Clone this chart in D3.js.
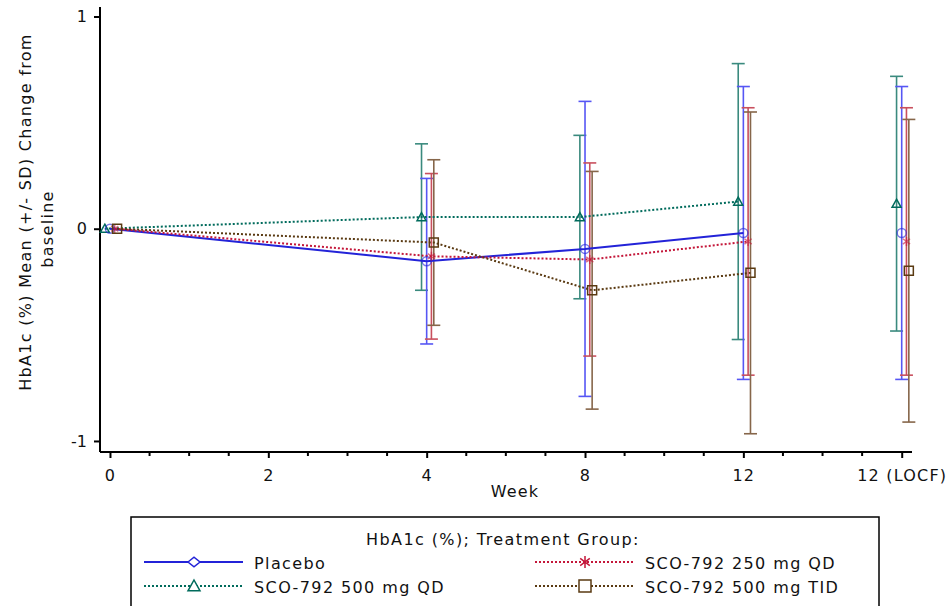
<!DOCTYPE html>
<head>
  <meta charset="utf-8">
  <script src="https://d3js.org/d3.v7.min.js"></script>
  <style>
    body { margin:0; background:#fff; }
    text { font-family: "DejaVu Sans", Verdana, sans-serif; font-size:16px; fill:#111; }
  </style>
</head>
<body>
<script>
// visit positions on the axis (axis is per visit, not linear weeks)
var tickPos = [0, 2, 4, 6, 8, 10];
var tickLabels = ["0", "2", "4", "8", "12", "12 (LOCF)"];
var visitPos = [0, 4, 6, 8, 10];
var yTicks = [-1, 0, 1];
var yTickLabels = ["-1", "0", "1"];

var seriesNames = ["SCO-792 500 mg QD", "Placebo", "SCO-792 250 mg QD", "SCO-792 500 mg TID"];
// mean change and SD per visit
var mean500qd  = [0, 0.055, 0.055, 0.128, 0.118];
var sd500qd    = [0, 0.345, 0.385, 0.65, 0.60];
var meanPbo    = [0, -0.153, -0.095, -0.02, -0.02];
var sdPbo      = [0, 0.39, 0.695, 0.69, 0.69];
var mean250qd  = [0, -0.13, -0.145, -0.06, -0.06];
var sd250qd    = [0, 0.39, 0.455, 0.63, 0.63];
var mean500tid = [0, -0.065, -0.29, -0.208, -0.198];
var sd500tid   = [0, 0.39, 0.56, 0.758, 0.713];

var width = 947, height = 606;
var svg = d3.select("body").append("svg").attr("width", width).attr("height", height);

var x = d3.scaleLinear().domain([-0.126, 10.13]).range([100, 912]);
var y = d3.scaleLinear().domain([-1.052, 1.04]).range([452, 8]);

var series = [
  {name: seriesNames[0], mean: mean500qd, sd: sd500qd, dodge: -0.065, line: "#006b5c", bar: "#3a8a7e", dash: "2,2", width: 2, marker: "triangle"},
  {name: seriesNames[1], mean: meanPbo, sd: sdPbo, dodge: 0, line: "#2323d8", bar: "#5656f4", dash: null, width: 2, marker: "circle"},
  {name: seriesNames[2], mean: mean250qd, sd: sd250qd, dodge: 0.06, line: "#c4173a", bar: "#c9505e", dash: "2,2", width: 2, marker: "asterisk"},
  {name: seriesNames[3], mean: mean500tid, sd: sd500tid, dodge: 0.09, line: "#5a3a12", bar: "#86664a", dash: "2,2", width: 2, marker: "square"}
];

function markerPath(type, s) {
  var h = s / 2;
  if (type == "triangle") return "M0," + (-h) + "L" + h + "," + (h*0.8) + "L" + (-h) + "," + (h*0.8) + "Z";
  if (type == "square") return "M" + (-h) + "," + (-h) + "H" + h + "V" + h + "H" + (-h) + "Z";
  if (type == "diamond") return "M" + (-h) + ",0L0," + (-h*0.8) + "L" + h + ",0L0," + (h*0.8) + "Z";
  if (type == "asterisk") return "M0," + (-h) + "V" + h + "M" + (-h*0.8) + "," + (-h*0.6) + "L" + (h*0.8) + "," + (h*0.6) + "M" + (-h*0.8) + "," + (h*0.6) + "L" + (h*0.8) + "," + (-h*0.6);
  // circle
  return d3.arc()({innerRadius: 0, outerRadius: h, startAngle: 0, endAngle: 2 * Math.PI});
}

// axes
var xAxis = d3.axisBottom(x).tickValues(tickPos).tickSize(6).tickSizeOuter(0)
  .tickFormat(function(d, i) { return tickLabels[i]; });
var gx = svg.append("g").attr("transform", "translate(0,452)").call(xAxis);
gx.select(".domain").attr("d", "M100,0H912");
gx.selectAll("text").attr("y", 18).style("letter-spacing", "1.2px");

var minor = d3.range(0, 10.01, 0.5).filter(function(v) { return tickPos.indexOf(v) < 0; });
gx.selectAll("line.minor").data(minor).enter().append("line").attr("class", "minor")
  .attr("x1", x).attr("x2", x).attr("y1", 0).attr("y2", 4);

var yAxis = d3.axisLeft(y).tickValues(yTicks).tickSize(6).tickSizeOuter(0).tickPadding(7)
  .tickFormat(function(d, i) { return yTickLabels[i]; });
var gy = svg.append("g").attr("transform", "translate(100,0)").call(yAxis);
gy.select(".domain").attr("d", "M0,7V452");

svg.selectAll(".domain, .tick line, line.minor").attr("stroke", "#000").attr("stroke-width", 2);
svg.selectAll(".tick text").style("font-size", "16px").attr("fill", "#111");

svg.append("text").attr("x", 515).attr("y", 497).attr("text-anchor", "middle")
  .style("letter-spacing", "1.2px").text("Week");

var ytitle = svg.append("g").style("letter-spacing", "1.3px");
ytitle.append("text").attr("transform", "translate(31,212)rotate(-90)").attr("text-anchor", "middle")
  .text("HbA1c (%) Mean (+/- SD) Change from");
ytitle.append("text").attr("transform", "translate(53,229)rotate(-90)").attr("text-anchor", "middle")
  .text("baseline");

// error bars
var plot = svg.append("g");
series.forEach(function(s) {
  var g = plot.append("g").attr("stroke", s.bar).attr("stroke-width", 1.6).attr("fill", "none");
  visitPos.forEach(function(p, i) {
    if (s.sd[i] == 0) return;
    var cx = x(p + s.dodge), hi = y(s.mean[i] + s.sd[i]), lo = y(s.mean[i] - s.sd[i]);
    g.append("line").attr("x1", cx).attr("x2", cx).attr("y1", hi).attr("y2", lo);
    g.append("line").attr("x1", cx - 6.5).attr("x2", cx + 6.5).attr("y1", hi).attr("y2", hi);
    g.append("line").attr("x1", cx - 6.5).attr("x2", cx + 6.5).attr("y1", lo).attr("y2", lo);
  });
});

// connecting lines (LOCF not connected)
var line = d3.line().x(function(d) { return x(d.p); }).y(function(d) { return y(d.m); });
series.forEach(function(s) {
  var pts = visitPos.slice(0, 4).map(function(p, i) { return {p: p + s.dodge, m: s.mean[i]}; });
  plot.append("path").attr("d", line(pts)).attr("fill", "none").attr("stroke", s.line)
    .attr("stroke-width", s.width).attr("stroke-dasharray", s.dash);
});

// markers
series.forEach(function(s) {
  plot.selectAll(null).data(visitPos).enter().append("path")
    .attr("transform", function(p, i) { return "translate(" + x(p + s.dodge) + "," + y(s.mean[i]) + ")"; })
    .attr("d", markerPath(s.marker, 9))
    .attr("fill", "none").attr("stroke", s.line).attr("stroke-width", 1.5)
    .attr("stroke-opacity", s.marker == "circle" || s.marker == "asterisk" ? 0.6 : 1);
});

// legend
var lg = svg.append("g");
lg.append("rect").attr("x", 131).attr("y", 517).attr("width", 748).attr("height", 120)
  .attr("fill", "none").attr("stroke", "#000").attr("stroke-width", 1.5);
lg.append("text").attr("x", 503).attr("y", 545).attr("text-anchor", "middle")
  .style("letter-spacing", "1.4px").text("HbA1c (%); Treatment Group:");

var legendItems = [
  {s: series[1], x0: 144, yy: 562, mk: "diamond"},
  {s: series[0], x0: 144, yy: 586, mk: "triangle"},
  {s: series[2], x0: 535, yy: 562, mk: "asterisk"},
  {s: series[3], x0: 535, yy: 586, mk: "square"}
];
legendItems.forEach(function(it) {
  lg.append("line").attr("x1", it.x0).attr("x2", it.x0 + 99).attr("y1", it.yy).attr("y2", it.yy)
    .attr("stroke", it.s.line).attr("stroke-width", 2).attr("stroke-dasharray", it.s.dash);
  lg.append("path").attr("transform", "translate(" + (it.x0 + 50) + "," + it.yy + ")")
    .attr("d", markerPath(it.mk, 12)).attr("fill", it.mk == "asterisk" ? "none" : "#fff")
    .attr("stroke", it.s.line).attr("stroke-width", 1.5);
  lg.append("text").attr("x", it.x0 + 110).attr("y", it.yy + 7)
    .style("letter-spacing", "1.4px").text(it.s.name);
});
</script>
</body>
</html>
